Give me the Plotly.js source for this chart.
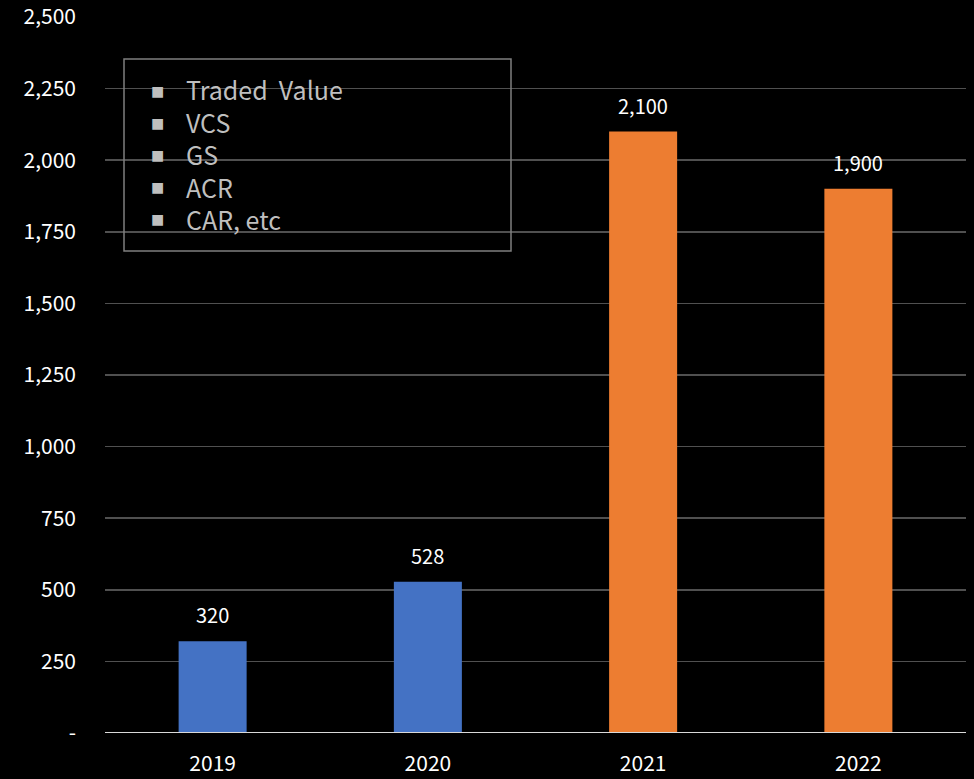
<!DOCTYPE html>
<html>
<head>
<meta charset="utf-8">
<script src="https://cdn.plot.ly/plotly-3.0.1.min.js"></script>
<style>html,body{margin:0;padding:0;background:#000;}#chart{width:974px;height:779px;}</style>
</head>
<body>
<div id="chart"></div>
<script>
const years = ["2019", "2020", "2021", "2022"];
const values = [320, 528, 2100, 1900];
const valueLabels = ["320", "528", "2,100", "1,900"];
const barColors = ["#4472C4", "#4472C4", "#ED7D31", "#ED7D31"];
const yTickVals = [0, 250, 500, 750, 1000, 1250, 1500, 1750, 2000, 2250, 2500];
const yTickText = ["-", "250", "500", "750", "1,000", "1,250", "1,500", "1,750", "2,000", "2,250", "2,500"];
const legendItems = ["Traded&nbsp; Value", "VCS", "GS", "ACR", "CAR, etc"];

const font = "Noto Sans CJK KR, Open Sans, sans-serif";
const W = 974, H = 779;
const L = 105, R = 8, T = 17, B = 46;
const pw = W - L - R, ph = H - T - B;
const px = x => (x - L) / pw;
const py = y => (H - B - y) / ph;

const trace = {
  type: "bar",
  x: years,
  y: values,
  marker: {color: barColors},
  width: 0.316,
  hoverinfo: "skip"
};

const annotations = years.map((yr, i) => ({
  x: i, y: values[i], xref: "x", yref: "y",
  text: valueLabels[i], showarrow: false,
  yanchor: "bottom", yshift: 10,
  font: {family: font, size: 20, color: "#ffffff"}
}));

legendItems.forEach((t, i) => {
  const cy = 92 + i * 32;
  annotations.push({
    xref: "paper", yref: "paper", x: px(157), y: py(cy - 1),
    xanchor: "center", yanchor: "middle", showarrow: false,
    text: "■", font: {family: "DejaVu Sans", size: 14, color: "#bfbfbf"}
  });
});
annotations.push({
  xref: "paper", yref: "paper", x: px(184), y: py(154),
  xanchor: "left", yanchor: "middle", align: "left", showarrow: false,
  text: legendItems.join("<br>"),
  font: {family: font, size: 25, color: "#bfbfbf"}
});

const layout = {
  width: W, height: H,
  paper_bgcolor: "#000000", plot_bgcolor: "#000000",
  margin: {l: L, r: R, t: T, b: B, pad: 0},
  showlegend: false,
  xaxis: {
    type: "category", range: [-0.5, 3.5],
    showgrid: false, zeroline: false, showline: false,
    ticks: "", ticklabelstandoff: 16,
    tickfont: {family: font, size: 21, color: "#ffffff"},
    fixedrange: true
  },
  yaxis: {
    range: [0, 2500], tickvals: yTickVals, ticktext: yTickText,
    showgrid: true, gridcolor: "#505050", gridwidth: 1.5,
    zeroline: false, showline: false, ticks: "",
    ticklabelstandoff: 28,
    tickfont: {family: font, size: 21, color: "#ffffff"},
    fixedrange: true
  },
  shapes: [
    {type: "line", xref: "paper", yref: "y", x0: 0, x1: 1, y0: 0, y1: 0,
     line: {color: "#d9d9d9", width: 2}},
    {type: "rect", xref: "paper", yref: "paper", x0: px(124), x1: px(511), y0: py(251), y1: py(59),
     line: {color: "#7f7f7f", width: 1.5}, fillcolor: "rgba(0,0,0,0)"}
  ],
  annotations: annotations
};

Plotly.newPlot("chart", [trace], layout, {displayModeBar: false, staticPlot: true});
</script>
</body>
</html>
